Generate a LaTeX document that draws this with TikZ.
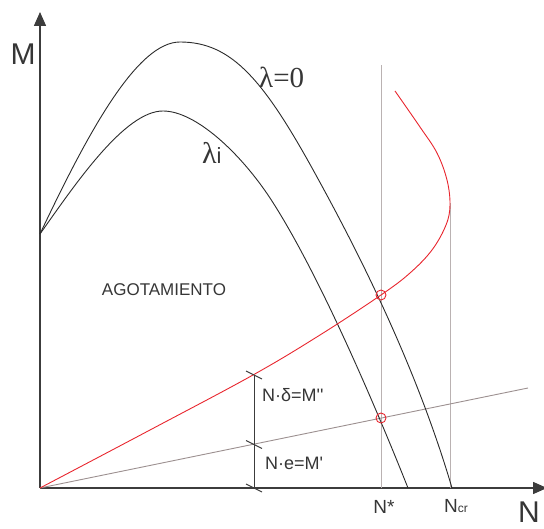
\documentclass[tikz,border=0pt]{standalone}
\usepackage{fontspec}
\usepackage{xcolor}
\usepackage{tikz}
\usetikzlibrary{arrows.meta}
\newfontfamily\labfont{Liberation Sans}
\newfontfamily\lamfont{Liberation Serif}
\definecolor{axisgray}{HTML}{3C3C3C}
\definecolor{curveblack}{HTML}{2B2B2B}
\definecolor{curvered}{HTML}{E8262E}
\definecolor{guidegray}{HTML}{BAB2B2}
\definecolor{linegray}{HTML}{9C9090}
\definecolor{textgray}{HTML}{363636}

\begin{document}
\begin{tikzpicture}[x=1pt, y=-1pt,
    axis/.style={draw=axisgray, line width=1.5pt, -{Triangle[length=14pt,width=12pt]}},
    curve/.style={draw=curveblack, line width=0.9pt},
    redcurve/.style={draw=curvered, line width=0.9pt},
    guide/.style={draw=guidegray, line width=1pt},
    eline/.style={draw=linegray, line width=0.9pt},
    dimline/.style={draw=axisgray, line width=1pt},
    hitmark/.style={circle, draw=curvered, line width=0.9pt, minimum size=10pt, inner sep=0pt},
    lab/.style={inner sep=0pt, text=textgray, font=\labfont\fontsize{18}{18}\selectfont}]
    \useasboundingbox (0,0) rectangle (544,529);

    % Axes
    \coordinate (O) at (40,488);
    \coordinate (Mend) at (40,12);
    \coordinate (Nend) at (547,488);
    \draw[axis] (O) -- (Mend);
    \draw[axis] (O) -- (Nend);
    \node[lab, anchor=base, font=\labfont\fontsize{30}{30}\selectfont] (Mlab) at (23,65) {M};
    \node[lab, anchor=base west, font=\labfont\fontsize{30}{30}\selectfont] (Nlab) at (518,522) {N};

    % Vertical guides at N* and Ncr
    \coordinate (Nstar) at (381,488);
    \coordinate (NstarTop) at (381,65);
    \coordinate (Ncr) at (450,488);
    \coordinate (NcrTop) at (450,203);
    \draw[guide] (Nstar) -- (NstarTop);
    \draw[guide] (Ncr) -- (NcrTop);
    \node[lab, anchor=base, font=\labfont\fontsize{19}{19}\selectfont] (NstarLab) at (384,513) {N*};
    \node[lab, anchor=base west, font=\labfont\fontsize{19}{19}\selectfont] (NcrLab) at (444,512)
        {N{\fontsize{12}{12}\selectfont cr}};

    % First order line M' = N e
    \coordinate (Eend) at (528,388);
    \draw[eline] (O) -- (Eend);

    % Interaction curves
    \coordinate (M0) at (40,234);
    \coordinate (peakZero) at (180,42);
    \coordinate (peakI) at (163,111);
    \draw[curve] (M0) .. controls (90,128) and (138,42) .. (peakZero)
        .. controls (232,42) and (264,80) .. (317,177)
        .. controls (361,257) and (417,369) .. (452,488);
    \draw[curve] (M0) .. controls (76,183) and (125,111) .. (peakI)
        .. controls (196,111) and (241,154) .. (270,198)
        .. controls (312,262) and (365,380) .. (408,488);
    \node[lab, anchor=base west, font=\lamfont\fontsize{29}{29}\selectfont] (lamZero) at (259,88) {λ=0};
    \node[lab, anchor=base west, font=\lamfont\fontsize{30}{30}\selectfont] (lamI) at (202,164)
        {λ{\labfont\fontsize{22}{22}\selectfont i}};

    % Second order curve
    \draw[redcurve] plot[smooth, tension=0.6] coordinates {(40,488) (150,430) (253,375) (320,335)
        (381,295) (410,273) (432,250) (446,225) (450,205) (447,180) (437,153) (420,127) (395,91)};
    \node[hitmark] (hitTop) at (381,295) {};
    \node[hitmark] (hitLow) at (381,418) {};

    % Dimension with ticks
    \coordinate (d0) at (254,488);
    \coordinate (d1) at (254,444.5);
    \coordinate (d2) at (254,375);
    \draw[dimline] (d0) -- (d2);
    \foreach \p in {d0,d1,d2}
        \draw[dimline, shift={(\p)}] (-8,-4) -- (8,4);
    \node[lab, anchor=west] (secLab) at (262,395) {N·δ=M''};
    \node[lab, anchor=west] (firstLab) at (265,463) {N·e=M'};

    % Region label
    \node[lab, font=\labfont\fontsize{17}{17}\selectfont] (region) at (164,290) {AGOTAMIENTO};
\end{tikzpicture}
\end{document}
